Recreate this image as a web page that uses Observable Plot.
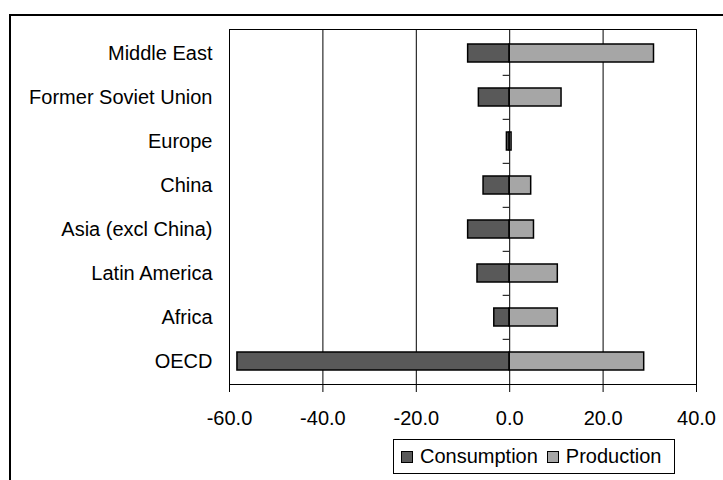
<!DOCTYPE html>
<html>
<head>
<meta charset="utf-8">
<script src="https://cdn.jsdelivr.net/npm/d3@7"></script>
<script src="https://cdn.jsdelivr.net/npm/@observablehq/plot@0.6"></script>
<style>
  html, body { margin: 0; padding: 0; background: #fff; overflow: hidden; width: 723px; height: 480px; }
  #wrap { position: relative; width: 723px; height: 480px; font-family: "Liberation Sans", Arial, sans-serif; }
  #border { position: absolute; left: 9px; top: 14px; width: 900px; height: 700px; border: 2px solid #000; box-sizing: border-box; }
  #chart { position: absolute; left: 0; top: 0; }
  #legend { position: absolute; left: 393px; top: 439px; width: 282px; height: 35px; border: 1px solid #000; box-sizing: border-box;
            display: flex; align-items: center; padding-left: 7px; font-size: 20px; color: #000; background: #fff; }
  .sw { width: 12px; height: 12px; border: 1px solid #000; box-sizing: border-box; display: inline-block; margin-right: 7px; }
  .item { display: flex; align-items: center; margin-right: 9px; }
</style>
</head>
<body>
<div id="wrap">
  <div id="border"></div>
  <div id="chart"></div>
  <div id="legend"></div>
</div>
<script>
const regions = ["Middle East", "Former Soviet Union", "Europe", "China", "Asia (excl China)", "Latin America", "Africa", "OECD"];
const consumption = [-8.9, -6.6, -0.6, -5.6, -8.9, -6.9, -3.3, -58.3];
const production = [30.9, 11.1, 0.4, 4.6, 5.2, 10.3, 10.3, 28.8];
const xTicks = [-60, -40, -20, 0, 20, 40];
const seriesNames = ["Consumption", "Production"];
const seriesColors = ["#595959", "#a6a6a6"];

const rows = [];
regions.forEach((r, i) => {
  rows.push({region: r, series: seriesNames[0], value: consumption[i]});
  rows.push({region: r, series: seriesNames[1], value: production[i]});
});

const W = 723, H = 480, mt = 29, mb = 96, ml = 229, mr = 27;
const step = (H - mt - mb) / regions.length;
const fmt = d => d3.format(".1f")(d).replace("\u2212", "-");

const plot = Plot.plot({
  width: W, height: H,
  marginTop: mt, marginBottom: mb, marginLeft: ml, marginRight: mr,
  style: {fontSize: "20px", fontFamily: "'Liberation Sans', Arial, sans-serif", color: "#000", background: "transparent"},
  x: {domain: [-60, 40], ticks: xTicks, tickFormat: fmt, tickSize: 8, tickPadding: 18, label: null},
  y: {domain: regions, paddingInner: 0.6, paddingOuter: 0.3, tickSize: 0, tickPadding: 17, label: null},
  color: {domain: seriesNames, range: seriesColors},
  marks: [
    Plot.ruleX(xTicks, {stroke: "#000", strokeWidth: 1}),
    Plot.frame({stroke: "#000", strokeWidth: 1}),
    Plot.barX(rows, {y: "region", x1: 0, x2: "value", fill: "series", stroke: "#000", strokeWidth: 1.5}),
    Plot.ruleY(regions.slice(1), {y: d => d, x1: -1.4, x2: 0, dy: -step / 2, stroke: "#000", strokeWidth: 1})
  ]
});
document.getElementById("chart").appendChild(plot);

const legend = document.getElementById("legend");
seriesNames.forEach((s, i) => {
  const it = document.createElement("div");
  it.className = "item";
  const sw = document.createElement("span");
  sw.className = "sw";
  sw.style.background = seriesColors[i];
  const tx = document.createElement("span");
  tx.textContent = s;
  it.appendChild(sw); it.appendChild(tx);
  legend.appendChild(it);
});
</script>
</body>
</html>
